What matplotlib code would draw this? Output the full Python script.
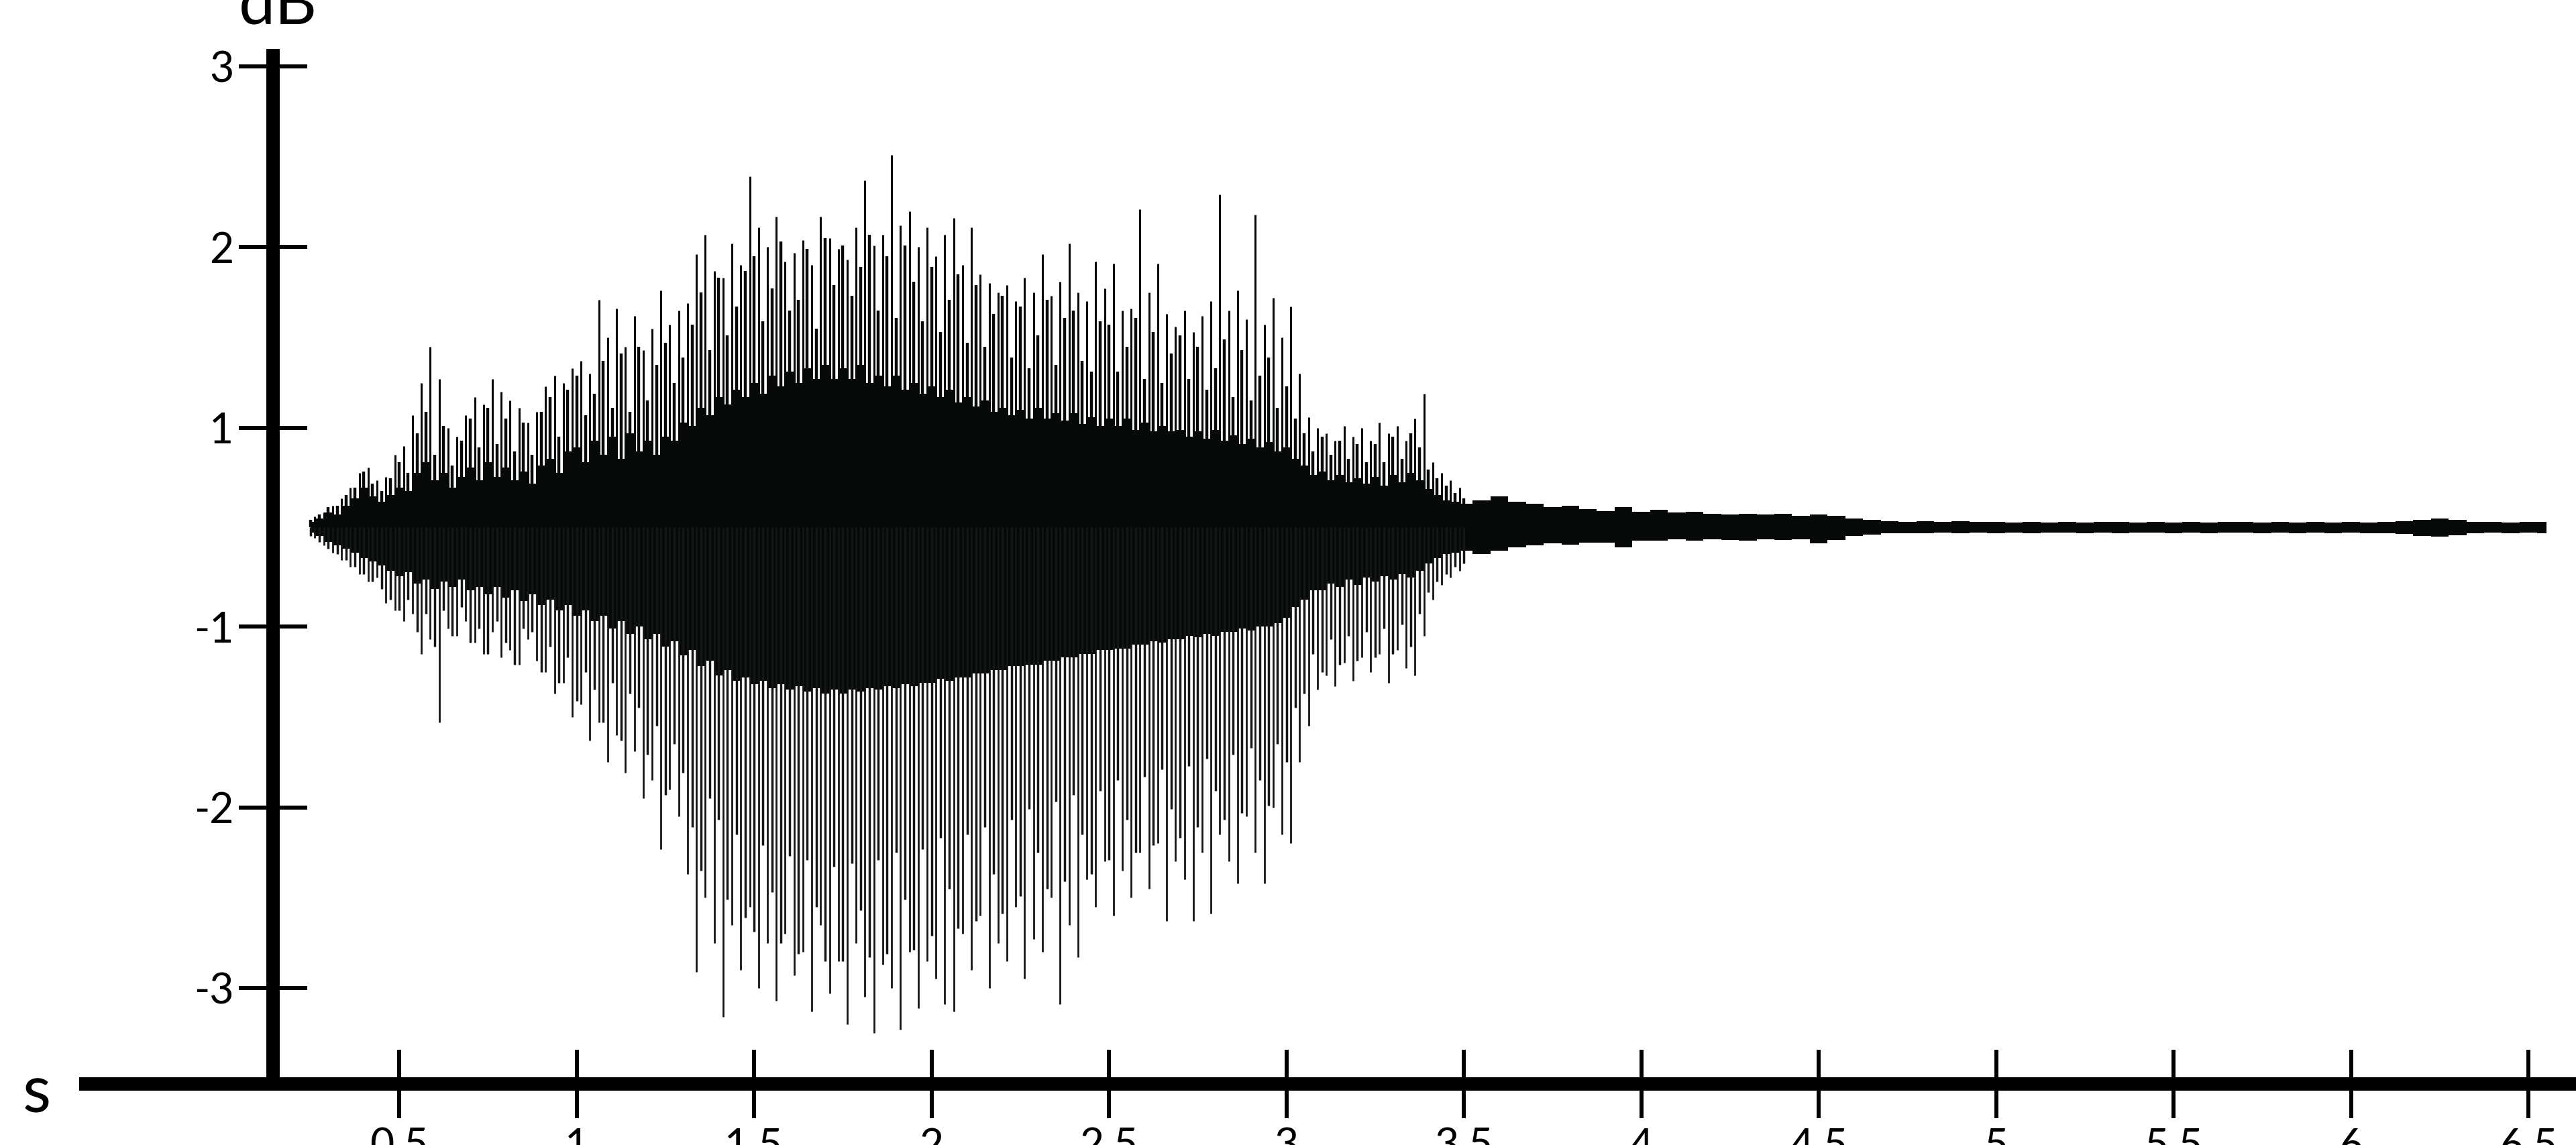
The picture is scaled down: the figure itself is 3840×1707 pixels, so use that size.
import numpy as np
import matplotlib
matplotlib.use("Agg")
import matplotlib.pyplot as plt

plt.rcParams['font.family'] = ['Lato', 'DejaVu Sans']

# body of the waveform, one value every 0.025 s from 0.25 s to 3.5 s
body_start = 0.25
body_step = 0.025
# solid black core
core_top = [
    0.03, 0.05, 0.08, 0.07, 0.12, 0.16, 0.22, 0.17, 0.14, 0.18,
    0.22, 0.20, 0.30, 0.36, 0.26, 0.30, 0.22, 0.28, 0.33, 0.26,
    0.36, 0.28, 0.33, 0.26, 0.31, 0.24, 0.34, 0.38, 0.30, 0.42,
    0.44, 0.36, 0.48, 0.40, 0.50, 0.38, 0.52, 0.42, 0.48, 0.40,
    0.50, 0.48, 0.58, 0.56, 0.66, 0.62, 0.72, 0.68, 0.76, 0.72,
    0.80, 0.74, 0.84, 0.78, 0.86, 0.80, 0.88, 0.82, 0.90, 0.82,
    0.88, 0.82, 0.90, 0.80, 0.84, 0.78, 0.84, 0.76, 0.80, 0.74,
    0.78, 0.72, 0.76, 0.69, 0.72, 0.67, 0.70, 0.64, 0.66, 0.62,
    0.65, 0.60, 0.66, 0.60, 0.63, 0.59, 0.63, 0.57, 0.61, 0.56,
    0.60, 0.56, 0.60, 0.54, 0.58, 0.53, 0.56, 0.53, 0.54, 0.50,
    0.53, 0.49, 0.54, 0.48, 0.51, 0.46, 0.49, 0.44, 0.47, 0.42,
    0.44, 0.38, 0.34, 0.29, 0.31, 0.26, 0.29, 0.25, 0.27, 0.24,
    0.28, 0.23, 0.29, 0.25, 0.30, 0.26, 0.21, 0.18, 0.15, 0.14,
    0.13,
]
core_bot = [
    -0.03, -0.05, -0.08, -0.10, -0.12, -0.14, -0.17, -0.19, -0.21, -0.24,
    -0.27, -0.25, -0.31, -0.29, -0.34, -0.30, -0.33, -0.29, -0.35, -0.33,
    -0.37, -0.33, -0.39, -0.35, -0.41, -0.37, -0.43, -0.40, -0.46, -0.43,
    -0.49, -0.46, -0.52, -0.49, -0.56, -0.52, -0.59, -0.55, -0.62, -0.59,
    -0.66, -0.63, -0.71, -0.68, -0.77, -0.74, -0.82, -0.79, -0.85, -0.83,
    -0.87, -0.85, -0.89, -0.87, -0.90, -0.88, -0.91, -0.89, -0.92, -0.90,
    -0.92, -0.90, -0.91, -0.89, -0.90, -0.88, -0.89, -0.87, -0.88, -0.86,
    -0.86, -0.84, -0.85, -0.83, -0.83, -0.81, -0.81, -0.79, -0.79, -0.77,
    -0.77, -0.76, -0.76, -0.74, -0.74, -0.72, -0.72, -0.70, -0.70, -0.68,
    -0.68, -0.67, -0.67, -0.65, -0.65, -0.63, -0.64, -0.62, -0.62, -0.60,
    -0.61, -0.59, -0.60, -0.58, -0.58, -0.56, -0.57, -0.55, -0.55, -0.53,
    -0.50, -0.44, -0.40, -0.35, -0.35, -0.31, -0.33, -0.29, -0.32, -0.28,
    -0.30, -0.27, -0.29, -0.26, -0.28, -0.24, -0.20, -0.17, -0.15, -0.14,
    -0.13,
]
# dense hairlines standing on the core, same time grid
mid_top = [
    0.04, 0.07, 0.11, 0.12, 0.18, 0.22, 0.31, 0.24, 0.20, 0.27,
    0.36, 0.30, 0.52, 0.64, 0.40, 0.56, 0.34, 0.48, 0.60, 0.44,
    0.66, 0.46, 0.60, 0.42, 0.58, 0.40, 0.64, 0.72, 0.50, 0.76,
    0.84, 0.62, 0.74, 0.92, 0.66, 0.96, 0.64, 1.00, 0.70, 0.90,
    1.02, 0.80, 0.94, 1.12, 1.30, 0.98, 1.38, 1.06, 1.22, 1.42,
    1.50, 1.14, 1.32, 1.58, 1.20, 1.26, 1.54, 1.10, 1.60, 1.34,
    1.56, 1.28, 1.44, 1.62, 1.20, 1.50, 1.16, 1.56, 1.36, 1.14,
    1.44, 1.08, 1.26, 1.40, 1.02, 1.34, 1.00, 1.18, 1.28, 0.94,
    1.22, 0.88, 1.06, 1.26, 0.90, 1.16, 1.20, 0.92, 0.86, 1.14,
    1.12, 0.86, 1.00, 1.16, 0.82, 1.08, 0.80, 0.96, 1.06, 0.82,
    1.00, 0.76, 0.88, 1.04, 0.72, 0.98, 0.70, 0.84, 0.94, 0.66,
    0.78, 0.60, 0.52, 0.42, 0.50, 0.40, 0.48, 0.38, 0.46, 0.36,
    0.46, 0.36, 0.50, 0.38, 0.52, 0.44, 0.32, 0.27, 0.23, 0.19,
    0.16,
]
mid_bot = [
    -0.05, -0.08, -0.12, -0.15, -0.18, -0.22, -0.26, -0.30, -0.34, -0.40,
    -0.46, -0.40, -0.58, -0.48, -0.66, -0.46, -0.60, -0.44, -0.64, -0.56,
    -0.70, -0.52, -0.64, -0.76, -0.56, -0.58, -0.80, -0.66, -0.86, -0.72,
    -0.96, -0.80, -0.90, -1.08, -0.86, -1.18, -0.92, -1.00, -1.26, -1.10,
    -1.48, -1.20, -1.36, -1.66, -1.90, -1.50, -1.62, -2.06, -1.70, -2.16,
    -2.24, -1.76, -2.02, -2.30, -1.82, -2.36, -1.84, -2.10, -2.40, -1.88,
    -2.40, -1.86, -2.12, -2.38, -1.84, -2.36, -1.80, -2.06, -2.34, -1.78,
    -2.26, -1.72, -2.00, -2.22, -1.70, -2.18, -1.66, -1.92, -2.14, -1.62,
    -2.04, -1.56, -1.80, -2.00, -1.52, -1.96, -1.48, -1.70, -1.92, -1.46,
    -1.84, -1.40, -1.62, -1.80, -1.38, -1.76, -1.34, -1.56, -1.72, -1.32,
    -1.66, -1.28, -1.46, -1.62, -1.26, -1.58, -1.22, -1.40, -1.54, -1.20,
    -1.30, -1.00, -0.92, -0.70, -0.80, -0.62, -0.76, -0.60, -0.74, -0.58,
    -0.72, -0.56, -0.70, -0.54, -0.66, -0.48, -0.36, -0.30, -0.26, -0.22,
    -0.20,
]

# decaying tail, one value every 0.05 s from 3.5 s to 6.55 s
tail_start = 3.5
tail_step = 0.05
tail_top = [
    0.13, 0.15, 0.17, 0.14, 0.13, 0.11, 0.12, 0.10, 0.09, 0.11,
    0.085, 0.095, 0.08, 0.085, 0.075, 0.07, 0.075, 0.07, 0.075, 0.065,
    0.07, 0.065, 0.05, 0.04, 0.035, 0.03, 0.035, 0.028, 0.032, 0.028,
    0.03, 0.025, 0.03, 0.025, 0.028, 0.025, 0.03, 0.028, 0.025, 0.03,
    0.025, 0.028, 0.025, 0.03, 0.028, 0.025, 0.03, 0.025, 0.028, 0.025,
    0.03, 0.025, 0.028, 0.032, 0.042, 0.048, 0.04, 0.03, 0.028, 0.025,
    0.03, 0.028,
]
tail_bot = [
    -0.13, -0.15, -0.13, -0.11, -0.10, -0.09, -0.095, -0.085, -0.085, -0.11,
    -0.075, -0.075, -0.065, -0.075, -0.065, -0.07, -0.075, -0.065, -0.07, -0.065,
    -0.09, -0.07, -0.05, -0.04, -0.035, -0.032, -0.035, -0.028, -0.032, -0.028,
    -0.032, -0.028, -0.032, -0.028, -0.028, -0.032, -0.028, -0.032, -0.028, -0.028,
    -0.032, -0.028, -0.032, -0.028, -0.028, -0.032, -0.028, -0.032, -0.028, -0.032,
    -0.028, -0.032, -0.032, -0.038, -0.048, -0.052, -0.045, -0.032, -0.028, -0.032,
    -0.028, -0.032,
]

# tall single spikes between the body samples, every 0.025 s from 0.2625 s
spike_start = 0.2625
spike_step = 0.025
spike_top = [
    0.06, 0.08, 0.12, 0.16, 0.22, 0.30, 0.33, 0.26, 0.28, 0.40,
    0.45, 0.62, 0.80, 1.00, 0.82, 0.55, 0.50, 0.62, 0.72, 0.68,
    0.82, 0.75, 0.70, 0.66, 0.58, 0.64, 0.78, 0.84, 0.80, 0.88,
    0.92, 0.85, 1.26, 1.05, 1.21, 1.00, 1.17, 0.98, 1.10, 1.31,
    1.12, 1.20, 1.24, 1.51, 1.62, 1.42, 1.38, 1.57, 1.45, 1.94,
    1.66, 1.55, 1.72, 1.47, 1.52, 1.59, 1.45, 1.72, 1.60, 1.54,
    1.48, 1.66, 1.92, 1.56, 1.62, 2.06, 1.67, 1.75, 1.55, 1.66,
    1.50, 1.62, 1.71, 1.45, 1.66, 1.40, 1.35, 1.30, 1.34, 1.25,
    1.38, 1.30, 1.51, 1.28, 1.36, 1.57, 1.30, 1.25, 1.47, 1.32,
    1.46, 1.20, 1.21, 1.76, 1.30, 1.46, 1.18, 1.11, 1.20, 1.08,
    1.17, 1.25, 1.84, 1.20, 1.31, 1.15, 1.73, 1.12, 1.27, 1.05,
    1.22, 0.85, 0.61, 0.55, 0.52, 0.48, 0.56, 0.50, 0.55, 0.48,
    0.58, 0.52, 0.56, 0.48, 0.60, 0.74, 0.36, 0.30, 0.26, 0.22,
]
spike_bot = [
    -0.06, -0.10, -0.14, -0.18, -0.22, -0.26, -0.30, -0.28, -0.42, -0.46,
    -0.52, -0.48, -0.70, -0.62, -1.08, -0.56, -0.60, -0.52, -0.64, -0.70,
    -0.58, -0.72, -0.68, -0.76, -0.62, -0.74, -0.80, -0.92, -0.86, -1.05,
    -0.98, -1.18, -1.08, -1.30, -1.15, -1.36, -1.24, -1.50, -1.40, -1.78,
    -1.45, -1.60, -1.92, -2.46, -2.05, -2.30, -2.71, -2.20, -2.45, -2.10,
    -2.55, -2.30, -2.62, -2.25, -2.48, -2.35, -2.68, -2.20, -2.58, -2.40,
    -2.75, -2.30, -2.60, -2.80, -2.42, -2.55, -2.78, -2.35, -2.66, -2.40,
    -2.50, -2.64, -2.68, -2.25, -2.45, -2.15, -2.55, -2.30, -2.40, -2.10,
    -2.50, -2.28, -2.35, -2.05, -2.64, -2.20, -2.38, -1.95, -2.10, -1.85,
    -2.15, -1.90, -2.05, -1.80, -2.00, -1.75, -2.18, -1.85, -1.95, -2.18,
    -1.80, -2.14, -1.70, -1.85, -1.97, -1.60, -1.80, -1.97, -1.55, -1.70,
    -1.75, -1.30, -1.10, -0.90, -0.82, -0.88, -0.75, -0.85, -0.72, -0.80,
    -0.70, -0.86, -0.68, -0.78, -0.82, -0.60, -0.40, -0.32, -0.28, -0.24,
]

x_ticks = [0.5, 1, 1.5, 2, 2.5, 3, 3.5, 4, 4.5, 5, 5.5, 6, 6.5]
x_labels = ['0.5', '1', '1.5', '2', '2.5', '3', '3.5', '4', '4.5', '5', '5.5', '6', '6.5']
y_labels = [3, 2, 1, -1, -2, -3]

t_body = body_start + body_step * np.arange(len(core_top))
t_tail = tail_start + tail_step * np.arange(len(tail_top))
t_env = np.concatenate([t_body, t_tail[1:]])
env_top = np.concatenate([core_top, tail_top[1:]])
env_bot = np.concatenate([core_bot, tail_bot[1:]])
t_spike = spike_start + spike_step * np.arange(len(spike_top))

# the labelled axis skips 0, so the ticks sit half a unit either side of the centre
y_ticks = [v - 0.45 * np.sign(v) for v in y_labels]

fig = plt.figure(figsize=(38.4, 17.07), dpi=100)
ax = fig.add_axes([0, 0, 1, 1])
ax.set_xlim(-0.625, 6.634)
ax.set_ylim(-3.419, 2.918)

ink = '#070909'
ink_low = '#141515'
ax.fill_between(t_env, env_bot, env_top, step='mid', color=ink, linewidth=0)
ax.vlines(t_body, 0, mid_top, colors=ink, linewidth=3.2)
ax.vlines(t_body, 0, mid_bot, colors=ink_low, linewidth=2.5)
ax.vlines(t_spike, 0, spike_top, colors=ink, linewidth=2.2)
ax.vlines(t_spike, 0, spike_bot, colors=ink_low, linewidth=2.0)

for side in ['top', 'right']:
    ax.spines[side].set_visible(False)
ax.spines['left'].set_position(('data', 0.145))
ax.spines['bottom'].set_position(('data', -3.081))
ax.spines['left'].set_bounds(-3.081, 2.647)
ax.spines['bottom'].set_bounds(-0.402, 6.7)
for side in ['left', 'bottom']:
    ax.spines[side].set_linewidth(14.4)
    ax.spines[side].set_color('black')
    ax.spines[side].set_capstyle('butt')

ax.set_xticks(x_ticks)
ax.set_xticklabels(x_labels)
ax.set_yticks(y_ticks)
ax.set_yticklabels([str(v) for v in y_labels])
ax.tick_params(axis='both', direction='inout', length=73, width=4.3,
               color='black', labelsize=45, labelcolor='black')
ax.tick_params(axis='x', pad=10)
ax.tick_params(axis='y', pad=6)

ax.text(0.158, 2.788, 'dB', ha='center', va='baseline', fontsize=70)
ax.text(-0.521, -3.239, 's', ha='center', va='baseline', fontsize=70)

fig.savefig('out.png', dpi=100, facecolor='white')
